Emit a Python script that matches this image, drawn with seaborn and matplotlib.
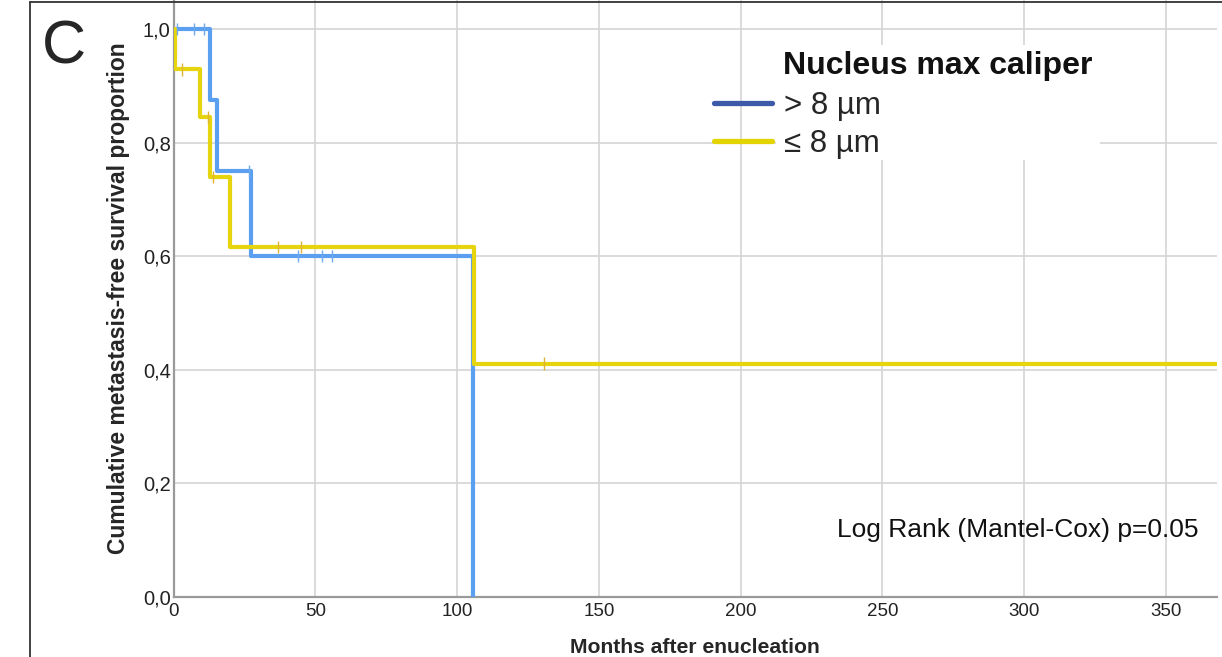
import numpy as np
import pandas as pd
import matplotlib
matplotlib.use("Agg")
import matplotlib.pyplot as plt
import seaborn as sns
from matplotlib.lines import Line2D
from matplotlib.patches import Rectangle
from matplotlib.ticker import FuncFormatter

# ---- data ----
group_labels = ["> 8 µm", "≤ 8 µm"]

# Kaplan-Meier step points (time in months, survival proportion)
big_times = [0, 13.0, 15.2, 27.2, 105.5]
big_surv = [1.0, 0.875, 0.75, 0.60, 0.0]

small_times = [0, 0.7, 9.2, 13.0, 20.0, 106.0, 370.0]
small_surv = [1.0, 0.929, 0.845, 0.739, 0.616, 0.411, 0.411]

# censor marks
big_cens_times = [1.4, 7.1, 10.6, 26.5, 44.0, 52.2, 56.0]
big_cens_surv = [1.0, 1.0, 1.0, 0.75, 0.60, 0.60, 0.60]

small_cens_times = [3.0, 12.3, 14.0, 37.0, 44.8, 130.5]
small_cens_surv = [0.929, 0.845, 0.739, 0.616, 0.616, 0.411]

x_ticks = [0, 50, 100, 150, 200, 250, 300, 350]
y_ticks = [0.0, 0.2, 0.4, 0.6, 0.8, 1.0]

line_colors = {"> 8 µm": "#5b9ff0", "≤ 8 µm": "#e5d40e"}
cens_colors = {"> 8 µm": "#6fa9ee", "≤ 8 µm": "#e0b235"}
legend_colors = {"> 8 µm": "#3c5aa8", "≤ 8 µm": "#e3d400"}

steps = pd.concat([
    pd.DataFrame({"time": big_times, "surv": big_surv, "group": group_labels[0]}),
    pd.DataFrame({"time": small_times, "surv": small_surv, "group": group_labels[1]}),
], ignore_index=True)
cens = pd.concat([
    pd.DataFrame({"time": big_cens_times, "surv": big_cens_surv, "group": group_labels[0]}),
    pd.DataFrame({"time": small_cens_times, "surv": small_cens_surv, "group": group_labels[1]}),
], ignore_index=True)

# ---- style ----
sns.set_theme(style="white")
plt.rcParams["font.family"] = ["Liberation Sans", "DejaVu Sans"]

fig = plt.figure(figsize=(12.22, 6.57), dpi=100)
ax = fig.add_axes([173.5 / 1222, 60 / 657, (1217 - 173.5) / 1222, 597 / 657])

sns.lineplot(data=steps, x="time", y="surv", hue="group", palette=line_colors,
             estimator=None, sort=True, drawstyle="steps-post", linewidth=3.0,
             legend=False, ax=ax, zorder=3)
sns.scatterplot(data=cens, x="time", y="surv", hue="group", palette=cens_colors,
                marker="|", s=80, linewidth=1.0, legend=False, ax=ax, zorder=4)

ax.set_xlim(0, 368)
ax.set_ylim(0, 1.051)
ax.set_xticks(x_ticks)
ax.set_yticks(y_ticks)
ax.yaxis.set_major_formatter(FuncFormatter(lambda v, p: f"{v:.1f}".replace(".", ",")))
ax.tick_params(axis="x", length=0, labelsize=13.5, colors="#222222", pad=4)
ax.tick_params(axis="y", length=0, labelsize=14.5, colors="#222222", pad=2)
ax.grid(True, color="#d4d4d4", linewidth=1.2)
ax.set_axisbelow(True)
for s in ["top", "right"]:
    ax.spines[s].set_visible(False)
for s in ["left", "bottom"]:
    ax.spines[s].set_color("#9a9a9a")
    ax.spines[s].set_linewidth(1.6)

ax.set_xlabel("Months after enucleation", fontsize=15.2, fontweight="bold", labelpad=13)
ax.set_ylabel("Cumulative metastasis-free survival proportion", fontsize=16.5,
              fontweight="bold", labelpad=9)

# white box behind legend text (covers grid)
ax.add_patch(Rectangle((0.577, 0.732), 0.311, 0.193, transform=ax.transAxes,
                       facecolor="white", edgecolor="none", zorder=1.5))

handles = [Line2D([0], [0], color=legend_colors[g], lw=3.8) for g in group_labels]
leg = ax.legend(handles, group_labels,
                loc="upper left", bbox_to_anchor=(0.518, 0.848), frameon=False,
                fontsize=22.5, handlelength=1.84, handletextpad=0.39,
                labelspacing=0.26, borderpad=0, borderaxespad=0)
leg.set_zorder(5)
ax.text(0.584, 0.889, "Nucleus max caliper", transform=ax.transAxes,
        ha="left", va="center", fontsize=23, fontweight="bold", color="#111111",
        zorder=6)

ax.text(0.982, 0.112, "Log Rank (Mantel-Cox) p=0.05", transform=ax.transAxes,
        ha="right", va="center", fontsize=19, color="#111111")

# panel letter and panel frame
fig.text(42 / 1222, 1 - 48 / 657, "C", fontsize=44, va="center", ha="left")
fig.add_artist(Line2D([30 / 1222, 30 / 1222], [0, 1 - 2 / 657],
                      transform=fig.transFigure, color="#333333", lw=1.3))
fig.add_artist(Line2D([30 / 1222, 1], [1 - 2 / 657, 1 - 2 / 657],
                      transform=fig.transFigure, color="#333333", lw=1.3))

fig.savefig("out.png", dpi=100)
